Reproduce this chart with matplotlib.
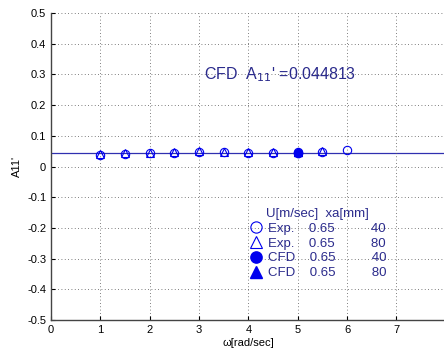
import numpy as np
import matplotlib
matplotlib.use("Agg")
import matplotlib.pyplot as plt

plt.rcParams['font.family'] = ['Liberation Sans', 'DejaVu Sans']

# Experimental data, xa = 40 mm (open circles)
w_exp40 = [1, 1.5, 2, 2.5, 3, 3.5, 4, 4.5, 5, 5.5, 6]
a_exp40 = [0.038, 0.042, 0.043, 0.045, 0.047, 0.046, 0.045, 0.044, 0.046, 0.048, 0.055]
# Experimental data, xa = 80 mm (open triangles)
w_exp80 = [1, 1.5, 2, 2.5, 3, 3.5, 4, 4.5, 5, 5.5]
a_exp80 = [0.040, 0.044, 0.045, 0.048, 0.050, 0.048, 0.047, 0.046, 0.049, 0.052]
# CFD points
w_cfd40 = [5]
a_cfd40 = [0.045]
w_cfd80 = [5]
a_cfd80 = [0.049]
cfd_const = 0.044813

blue = "#0000ee"
txt = "#2b2b8c"

fig = plt.figure(figsize=(4.44, 3.51), dpi=100)
ax = fig.add_axes([0.115, 0.088, 0.889, 0.875])

ax.axhline(cfd_const, color="#3030b0", lw=0.9, zorder=1)
ax.plot(w_exp40, a_exp40, "o", ms=6, mfc="none", mec=blue, mew=0.8, ls="none",
        label="Exp.    0.65          40")
ax.plot(w_exp80, a_exp80, "^", ms=6, mfc="none", mec=blue, mew=0.8, ls="none",
        label="Exp.    0.65          80")
ax.plot(w_cfd40, a_cfd40, "o", ms=6, color=blue, ls="none",
        label="CFD    0.65          40")
ax.plot(w_cfd80, a_cfd80, "^", ms=6, color=blue, ls="none",
        label="CFD    0.65          80")

ax.text(3.1, 0.30, "CFD  A$_{11}$' =0.044813", color=txt, fontsize=11.5,
        va="center", ha="left")

leg = ax.legend(loc="upper left", bbox_to_anchor=(0.485, 0.383), frameon=False,
                fontsize=9.5, handletextpad=0.35, labelspacing=0.2,
                borderaxespad=0, title="U[m/sec]  xa[mm]",
                title_fontsize=9.5, handlelength=1.2, markerscale=1.35)
for t in leg.get_texts():
    t.set_color(txt)
leg.get_title().set_color(txt)
leg._legend_box.align = "center"

ax.set_xlim(0, 8)
ax.set_ylim(-0.5, 0.5)
ax.set_xticks(np.arange(0, 8, 1))
ax.set_yticks(np.round(np.arange(-0.5, 0.51, 0.1), 1))
ax.set_yticklabels(["-0.5", "-0.4", "-0.3", "-0.2", "-0.1", "0",
                    "0.1", "0.2", "0.3", "0.4", "0.5"])
ax.tick_params(direction="in", labelsize=8, length=3, width=0.8)
ax.grid(True, ls=(0, (1, 3)), color="#555555", lw=0.6)
for s in ["top", "right"]:
    ax.spines[s].set_visible(False)
for s in ["left", "bottom"]:
    ax.spines[s].set_linewidth(1.0)
    ax.spines[s].set_color("#444444")

ax.set_xlabel("\u03c9[rad/sec]", fontsize=8, labelpad=2)
ax.set_ylabel("A11'", fontsize=8, labelpad=4)

fig.savefig("out.png", dpi=100)
